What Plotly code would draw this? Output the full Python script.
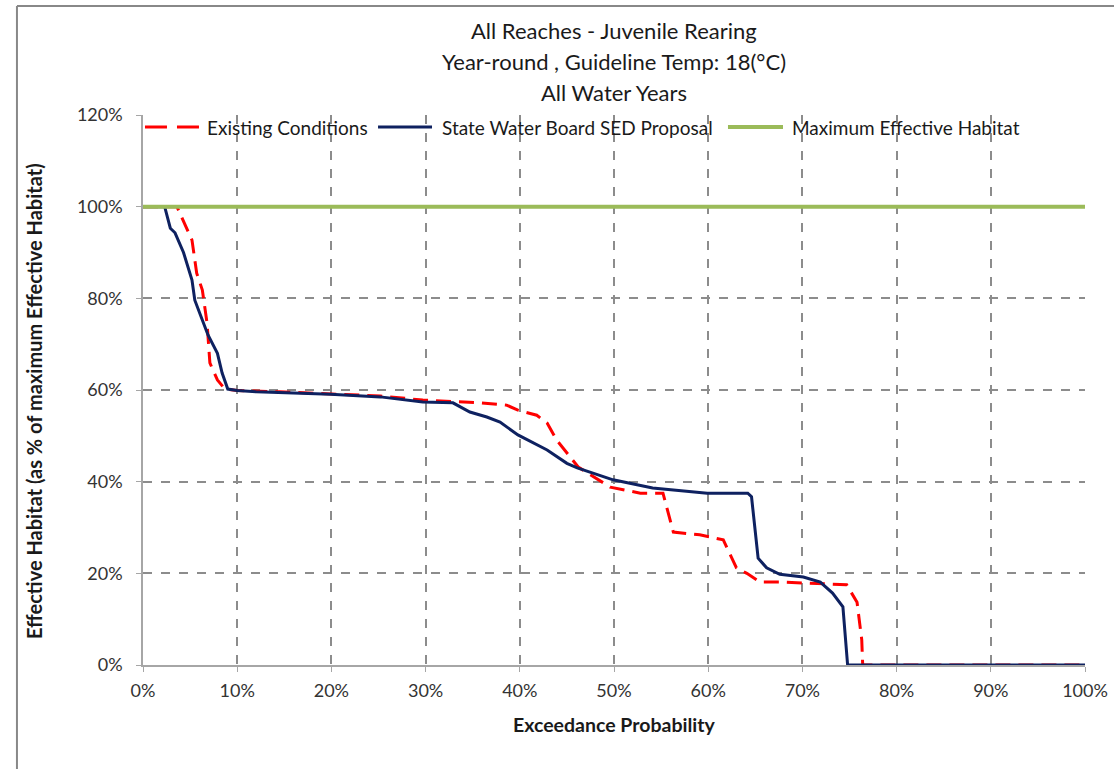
import plotly.graph_objects as go

# Exceedance probability (%) and effective habitat (%)
sed_x = [0, 2.3, 2.9, 3.4, 4.3, 5.2, 5.5, 6.9, 7.9, 8.4, 9.0, 10, 12, 14.5, 19.9, 25.2, 29.7, 32.9,
         34.7, 36.5, 37.9, 39.8, 42.9, 45.0, 46.1, 49.9, 54.1, 59.9, 64.2, 64.6, 65.3, 66.2, 67.6,
         70.1, 71.9, 73.2, 74.3, 74.8, 100]
sed_y = [100, 100, 95.3, 94.3, 90, 84, 79.6, 72, 68, 63.7, 60.2, 59.9, 59.6, 59.4, 59.1, 58.5, 57.4,
         57.2, 55.2, 54.1, 53, 50.2, 46.9, 44, 43, 40.4, 38.6, 37.5, 37.5, 36.7, 23.3, 21.2, 19.8,
         19.2, 18.1, 15.7, 12.7, 0, 0]

exist_x = [0, 3.6, 5.2, 5.7, 6.3, 6.8, 7.1, 7.9, 8.7, 10, 14.5, 25.2, 29.7, 35.8, 38.6, 39.8, 41.8,
           42.9, 43.9, 45.3, 46.2, 49.6, 52.8, 55.2, 56.3, 59.1, 61.6, 63, 64.1, 65.5, 67.6, 70.1,
           74.7, 75.8, 76.3, 76.4, 100]
exist_y = [100, 100, 92.7, 85.5, 81.8, 74.6, 65.9, 62.2, 60.2, 59.9, 59.6, 58.7, 57.8, 57.2, 56.7,
           55.6, 54.5, 52.8, 49.1, 45.4, 43.2, 38.8, 37.5, 37.5, 29, 28.4, 27.3, 21.2, 20, 18.1, 18.1,
           17.9, 17.5, 13.7, 5.5, 0, 0]

max_x = [0, 100]
max_y = [100, 100]

x_ticks = list(range(0, 101, 10))
y_ticks = list(range(0, 121, 20))

title_lines = ["All Reaches - Juvenile Rearing",
               "Year-round , Guideline Temp: 18(°C)",
               "All Water Years"]
series_names = ["Existing Conditions", "State Water Board SED Proposal", "Maximum Effective Habitat"]

FONT = "Lato"
TXT = "#1a1a1a"
TICK = "#333333"
RED = "#ff0000"
BLUE = "#0e2160"
GREEN = "#9bbb59"

fig = go.Figure()
fig.add_trace(go.Scatter(x=exist_x, y=exist_y, mode="lines", name=series_names[0],
                         line=dict(color=RED, width=3, dash="15px,8px"), showlegend=False))
fig.add_trace(go.Scatter(x=sed_x, y=sed_y, mode="lines", name=series_names[1],
                         line=dict(color=BLUE, width=3), showlegend=False))
fig.add_trace(go.Scatter(x=max_x, y=max_y, mode="lines", name=series_names[2],
                         line=dict(color=GREEN, width=4), showlegend=False))

title_y = [1.1545, 1.0964, 1.0418]
annotations = [
    dict(text=t, xref="paper", yref="paper", x=0.5, y=yy, xanchor="center", yanchor="middle",
         showarrow=False, font=dict(size=22, color=TXT))
    for t, yy in zip(title_lines, title_y)
]
annotations.append(dict(text="<b>Exceedance Probability</b>", xref="paper", yref="paper",
                        x=0.5, y=-0.109, xanchor="center", yanchor="middle", showarrow=False,
                        font=dict(size=19.5, color=TXT)))
annotations.append(dict(text="<b>Effective Habitat (as % of maximum Effective Habitat)</b>",
                        xref="paper", yref="paper", x=-0.1157, y=0.48, xanchor="center",
                        yanchor="middle", showarrow=False, textangle=-90,
                        font=dict(size=20, color=TXT)))

# manual legend (inside plot, top-left)
leg_y = 0.978
leg_items = [  # (sample x0, sample x1, text x)
    (0.0021, 0.0605, 0.0658),
    (0.2495, 0.3068, 0.3153),
    (0.621, 0.6794, 0.6868),
]
leg_styles = [dict(color=RED, width=3, dash="22px,10px"),
              dict(color=BLUE, width=3),
              dict(color=GREEN, width=4)]
shapes = [
    dict(type="line", xref="paper", yref="paper", x0=-0.1338, x1=1.05, y0=1.198, y1=1.198,
         line=dict(color="#888888", width=2)),
    dict(type="line", xref="paper", yref="paper", x0=-0.1338, x1=-0.1338, y0=1.198, y1=-0.2,
         line=dict(color="#888888", width=2)),
]
for (sx0, sx1, tx), st, nm in zip(leg_items, leg_styles, series_names):
    shapes.append(dict(type="line", xref="paper", yref="paper", x0=sx0, x1=sx1,
                       y0=leg_y, y1=leg_y, line=st))
    annotations.append(dict(text=nm, xref="paper", yref="paper", x=tx, y=leg_y,
                            xanchor="left", yanchor="middle", showarrow=False,
                            font=dict(size=19, color=TXT)))

fig.update_layout(
    width=1114, height=769,
    margin=dict(l=143, r=29, t=115, b=104, autoexpand=False),
    paper_bgcolor="white", plot_bgcolor="white",
    font=dict(family=FONT, size=18, color=TXT),
    showlegend=False,
    annotations=annotations,
    shapes=shapes,
)
fig.update_xaxes(range=[0, 100], tickvals=x_ticks, ticktext=[f"{v}%" for v in x_ticks],
                 showgrid=True, gridcolor="#8c8c8c", griddash="dash", gridwidth=1.5,
                 showline=True, linecolor="#a6a6a6", linewidth=1.5,
                 ticks="outside", ticklen=5, tickcolor="#a6a6a6", ticklabelstandoff=4,
                 zeroline=False, tickfont=dict(size=18, color=TICK))
fig.update_yaxes(range=[0, 120], tickvals=y_ticks, ticktext=[f"{v}%" for v in y_ticks],
                 showgrid=True, gridcolor="#8c8c8c", griddash="dash", gridwidth=1.5,
                 showline=True, linecolor="#a6a6a6", linewidth=1.5,
                 ticks="outside", ticklen=5, tickcolor="#a6a6a6", ticklabelstandoff=10,
                 zeroline=False, tickfont=dict(size=18, color=TICK))

fig.write_html("out.html", config={"displayModeBar": False},
               post_script="document.body.style.margin='0px';")
